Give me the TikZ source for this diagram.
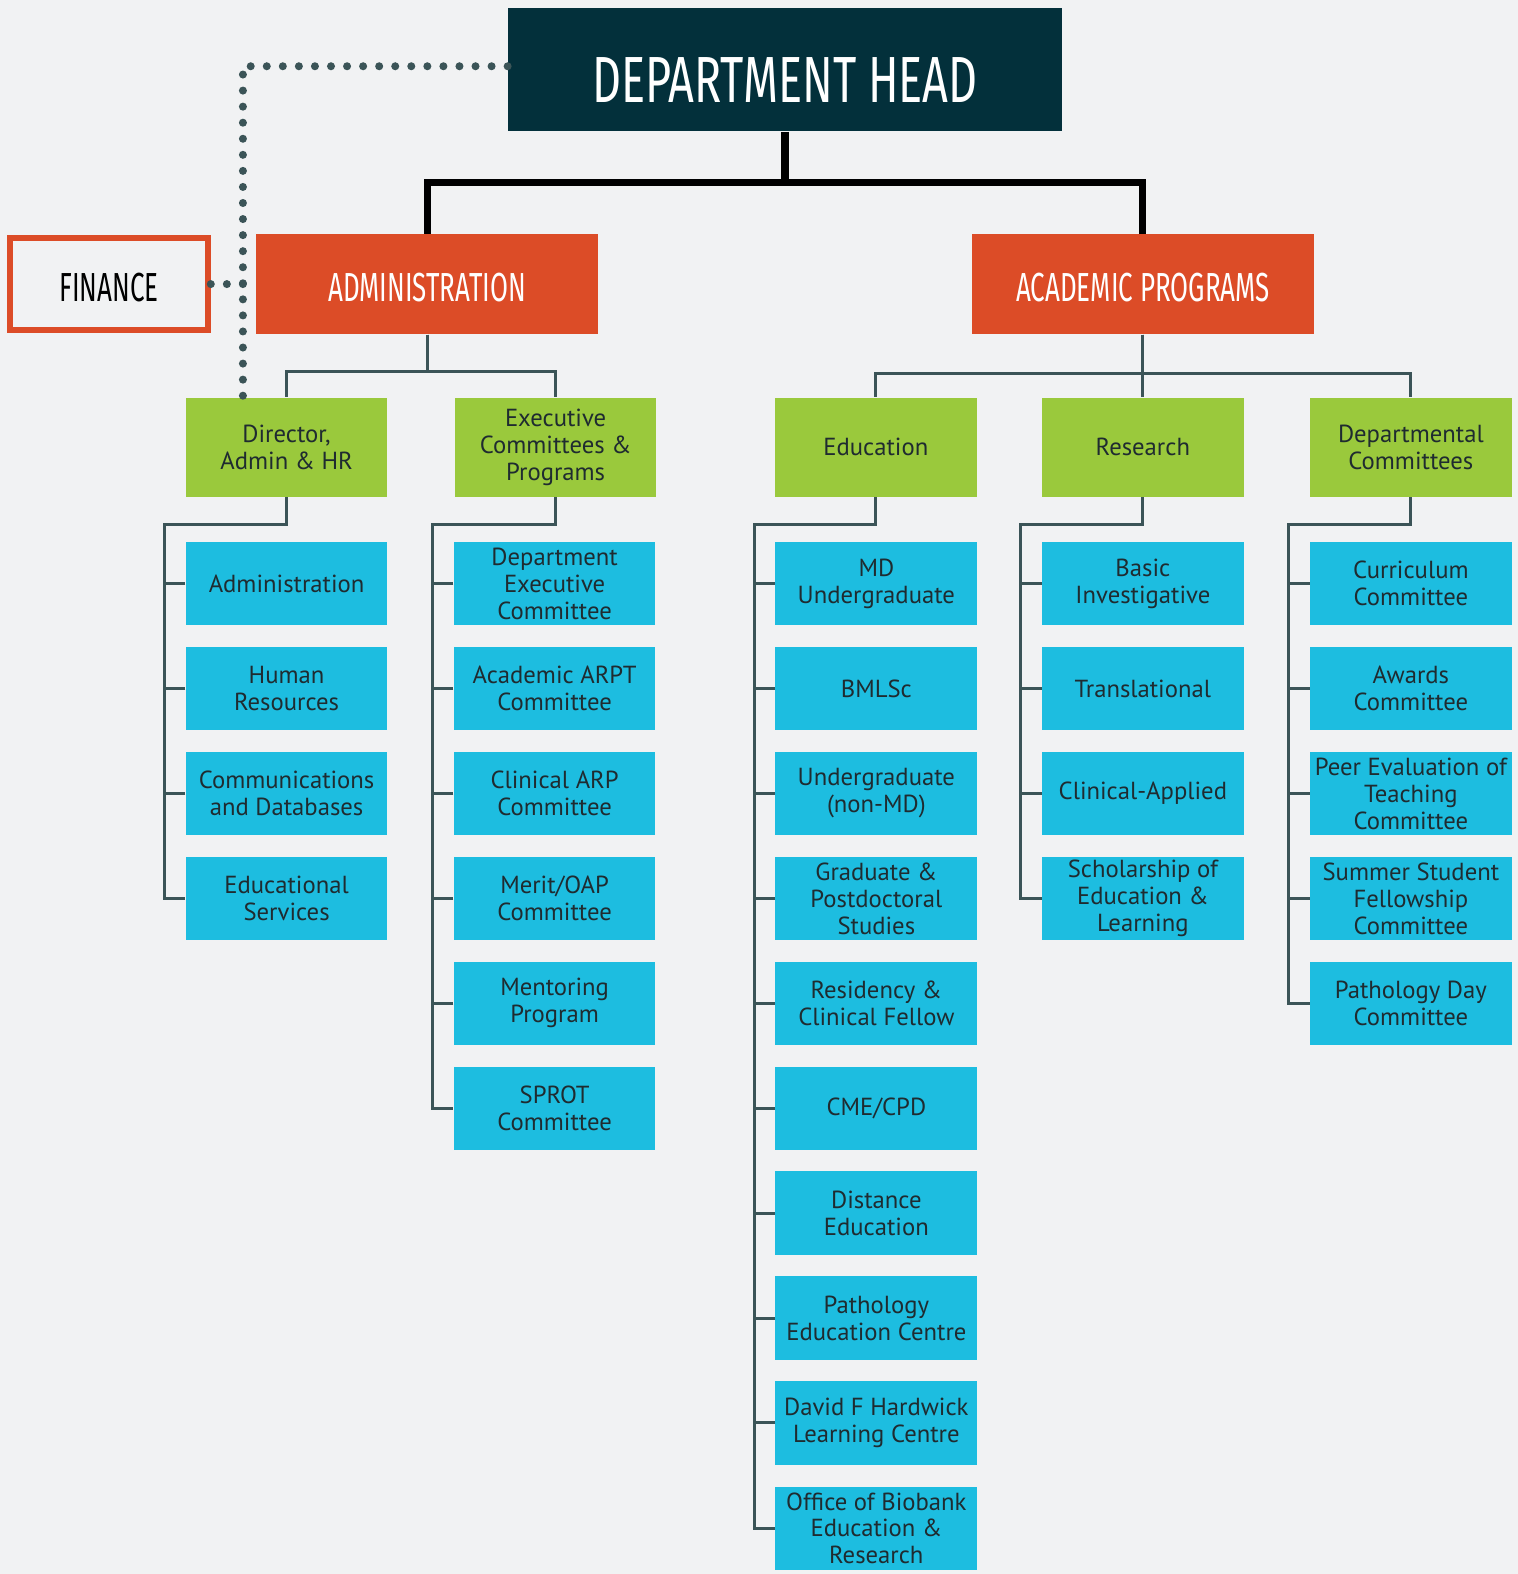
\documentclass[tikz,border=0pt]{standalone}
\usepackage{fontspec}
\setmainfont{PT Sans}
\newfontfamily\headfont[FakeStretch=0.69]{Fira Sans}
\newfontfamily\orgfont[FakeStretch=0.64]{Fira Sans}
\usepackage{tikz}

\definecolor{headblue}{HTML}{03303B}
\definecolor{orgred}{HTML}{DC4C27}
\definecolor{leafgreen}{HTML}{9AC93C}
\definecolor{unitblue}{HTML}{1DBDE0}
\definecolor{linegrey}{HTML}{3B5457}
\definecolor{inkdark}{HTML}{1F2B30}
\definecolor{paper}{HTML}{F1F2F3}

\begin{document}
\begin{tikzpicture}[x=0.02cm, y=-0.02cm,
  headbox/.style={fill=headblue, text=white, minimum width=11.04cm, minimum height=2.46cm,
    inner sep=0pt, text height=37pt, text depth=0pt, font=\headfont\fontsize{37}{40}\selectfont},
  orgbox/.style={fill=orgred, text=white, minimum width=6.82cm, minimum height=2cm,
    inner sep=0pt, text height=19.3pt, text depth=0pt, font=\orgfont\fontsize{23}{26}\selectfont},
  finbox/.style={draw=orgred, line width=0.12cm, text=black, minimum width=3.94cm,
    minimum height=1.84cm, inner sep=0pt, text height=19.3pt, text depth=0pt,
    font=\orgfont\fontsize{23}{26}\selectfont},
  groupbox/.style={fill=leafgreen, text=inkdark, minimum width=4.02cm, minimum height=1.98cm,
    inner sep=0pt, align=center, font=\fontsize{14}{15.3}\selectfont},
  unitbox/.style={fill=unitblue, text=inkdark, minimum width=4.02cm, minimum height=1.66cm,
    inner sep=0pt, align=center, font=\fontsize{14}{15.3}\selectfont},
  trunk/.style={line width=0.14cm, black},
  branch/.style={line width=0.06cm, linegrey},
  dotline/.style={line width=0.16cm, linegrey, line cap=round, dash pattern=on 0pt off 0.32cm}]

%% background
\fill[paper] (0,0) rectangle (1512,1568);
\useasboundingbox (0,0) rectangle (1512,1568);

%% top levels
\node[headbox] (head) at (782,69.5) {DEPARTMENT HEAD};
\node[orgbox] (admin) at (425.5,283) {ADMINISTRATION};
\node[orgbox] (acad) at (1138.5,283) {ACADEMIC PROGRAMS};
\node[finbox] (fin) at (108.5,283) {FINANCE};

%% groups
\node[groupbox] (dir) at (285.5,445.5) {Director,\\Admin \& HR};
\node[groupbox] (exec) at (553.5,445.5) {Executive\\Committees \&\\Programs};
\node[groupbox] (edu) at (872.5,445.5) {Education};
\node[groupbox] (res) at (1138.5,445.5) {Research};
\node[groupbox] (dept) at (1405.5,445.5) {Departmental\\Committees};

%% director, admin & hr
\node[unitbox] (adm1) at (285.5,581.5) {Administration};
\node[unitbox] (adm2) at (285.5,686) {Human\\Resources};
\node[unitbox] (adm3) at (285.5,790.5) {Communications\\and Databases};
\node[unitbox] (adm4) at (285.5,895) {Educational\\Services};

%% executive committees
\node[unitbox] (exe1) at (552.5,581.5) {Department\\Executive\\Committee};
\node[unitbox] (exe2) at (552.5,686) {Academic ARPT\\Committee};
\node[unitbox] (exe3) at (552.5,790.5) {Clinical ARP\\Committee};
\node[unitbox] (exe4) at (552.5,895) {Merit/OAP\\Committee};
\node[unitbox] (exe5) at (552.5,999.5) {Mentoring\\Program};
\node[unitbox] (exe6) at (552.5,1104) {SPROT\\Committee};

%% education
\node[unitbox] (edu1) at (873,581.5) {MD\\Undergraduate};
\node[unitbox] (edu2) at (873,686) {BMLSc};
\node[unitbox] (edu3) at (873,790.5) {Undergraduate\\(non-MD)};
\node[unitbox] (edu4) at (873,895) {Graduate \&\\Postdoctoral\\Studies};
\node[unitbox] (edu5) at (873,999.5) {Residency \&\\Clinical Fellow};
\node[unitbox] (edu6) at (873,1104) {CME/CPD};
\node[unitbox] (edu7) at (873,1208.5) {Distance\\Education};
\node[unitbox] (edu8) at (873,1313) {Pathology\\Education Centre};
\node[unitbox] (edu9) at (873,1417.5) {David F Hardwick\\Learning Centre};
\node[unitbox] (edu10) at (873,1522.5) {Office of Biobank\\Education \&\\Research};

%% research
\node[unitbox] (res1) at (1138.5,581.5) {Basic\\Investigative};
\node[unitbox] (res2) at (1138.5,686) {Translational};
\node[unitbox] (res3) at (1138.5,790.5) {Clinical-Applied};
\node[unitbox] (res4) at (1138.5,895) {Scholarship of\\Education \&\\Learning};

%% departmental committees
\node[unitbox] (dep1) at (1405.5,581.5) {Curriculum\\Committee};
\node[unitbox] (dep2) at (1405.5,686) {Awards\\Committee};
\node[unitbox] (dep3) at (1405.5,790.5) {Peer Evaluation of\\Teaching\\Committee};
\node[unitbox] (dep4) at (1405.5,895) {Summer Student\\Fellowship\\Committee};
\node[unitbox] (dep5) at (1405.5,999.5) {Pathology Day\\Committee};

%%% edges
\draw[trunk] (head.south) -- ++(0,50) -| (admin.north);
\draw[trunk] (head.south) -- ++(0,50) -| (acad.north);

\coordinate (dotbend) at (242,66);
\draw[dotline] ([yshift=0.07cm]head.west) -- (dotbend) -- (dotbend |- dir.north);
\draw[dotline] (fin.east) -- (fin.east -| dotbend);

\draw[branch] (admin.south) -- ++(0,37) -| (dir.north);
\draw[branch] (admin.south) -- ++(0,37) -| (exec.north);
\draw[branch] (acad.south) -- (res.north);
\draw[branch] (acad.south) -- ++(0,39) -| (edu.north);
\draw[branch] (acad.south) -- ++(0,39) -| (dept.north);

\draw[branch] (dir.south) -- ++(0,27) -| ([xshift=-0.42cm]adm4.west) -- (adm4.west);
\draw[branch] (adm1.west) -- ++(-21,0);
\draw[branch] (adm2.west) -- ++(-21,0);
\draw[branch] (adm3.west) -- ++(-21,0);

\draw[branch] (exec.south) -- ++(0,27) -| ([xshift=-0.42cm]exe6.west) -- (exe6.west);
\draw[branch] (exe1.west) -- ++(-21,0);
\draw[branch] (exe2.west) -- ++(-21,0);
\draw[branch] (exe3.west) -- ++(-21,0);
\draw[branch] (exe4.west) -- ++(-21,0);
\draw[branch] (exe5.west) -- ++(-21,0);

\draw[branch] (edu.south) -- ++(0,27) -| ([xshift=-0.42cm]edu10.west) -- (edu10.west);
\draw[branch] (edu1.west) -- ++(-21,0);
\draw[branch] (edu2.west) -- ++(-21,0);
\draw[branch] (edu3.west) -- ++(-21,0);
\draw[branch] (edu4.west) -- ++(-21,0);
\draw[branch] (edu5.west) -- ++(-21,0);
\draw[branch] (edu6.west) -- ++(-21,0);
\draw[branch] (edu7.west) -- ++(-21,0);
\draw[branch] (edu8.west) -- ++(-21,0);
\draw[branch] (edu9.west) -- ++(-21,0);

\draw[branch] (res.south) -- ++(0,27) -| ([xshift=-0.42cm]res4.west) -- (res4.west);
\draw[branch] (res1.west) -- ++(-21,0);
\draw[branch] (res2.west) -- ++(-21,0);
\draw[branch] (res3.west) -- ++(-21,0);

\draw[branch] (dept.south) -- ++(0,27) -| ([xshift=-0.42cm]dep5.west) -- (dep5.west);
\draw[branch] (dep1.west) -- ++(-21,0);
\draw[branch] (dep2.west) -- ++(-21,0);
\draw[branch] (dep3.west) -- ++(-21,0);
\draw[branch] (dep4.west) -- ++(-21,0);

\end{tikzpicture}
\end{document}
